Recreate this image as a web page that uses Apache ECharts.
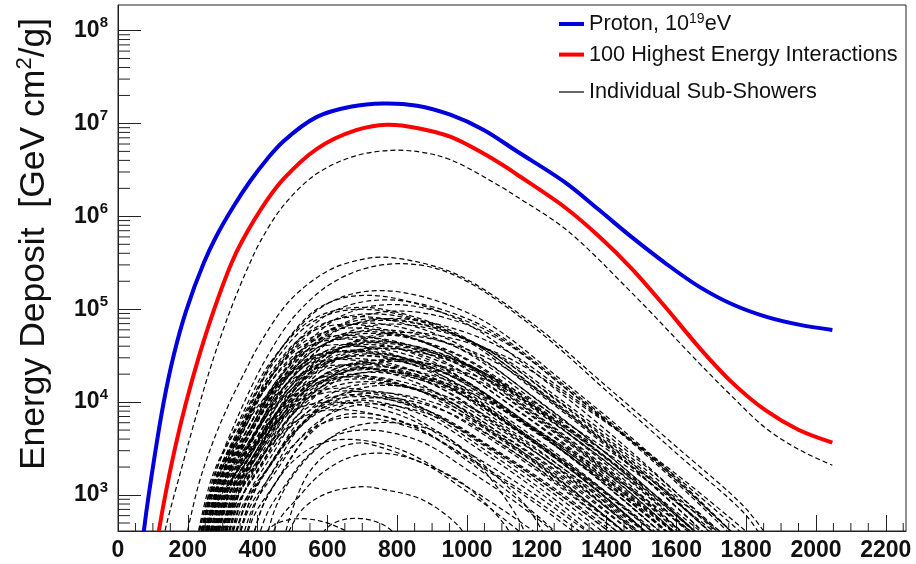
<!DOCTYPE html>
<html>
<head>
<meta charset="utf-8">
<script src="https://cdn.jsdelivr.net/npm/echarts@6/dist/echarts.min.js"></script>
<style>
html,body{margin:0;padding:0;background:#fff;}
#chart{width:916px;height:564px;}
</style>
</head>
<body>
<div id="chart"></div>
<script>
// ---------- data (slant depth X in g/cm^2) ----------
const xTickLabels = [0,200,400,600,800,1000,1200,1400,1600,1800,2000,2200];
const yDecades = [3,4,5,6,7,8];

// Proton, 10^19 eV  (energy deposit, GeV cm^2/g)
const protonX = [65,74,88,131,160,195,246,281,330,379,427,475,570,666,761,857,952,1048,1143,1283,1378,1474,1569,1665,1760,1856,1951,2047];
const protonY = [200,407,1.0e3,1.0e4,3.24e4,9.55e4,3.16e5,6.03e5,1.26e6,2.40e6,4.12e6,6.46e6,1.175e7,1.51e7,1.64e7,1.55e7,1.24e7,8.51e6,5.01e6,2.29e6,1.175e6,5.89e5,3.12e5,1.75e5,1.13e5,8.32e4,6.82e4,5.98e4];

// 100 highest energy interactions
const highestX = [105,117,137,164,193,231,274,326,355,427,475,570,680,771,860,952,1092,1143,1283,1378,1474,1569,1665,1760,1856,1951,2047];
const highestY = [200,407,1.07e3,3.28e3,9.25e3,3.01e4,9.6e4,3.18e5,5.35e5,1.49e6,2.54e6,5.33e6,8.41e6,9.66e6,8.89e6,7.19e6,3.78e6,2.82e6,1.23e6,6.1e5,2.69e5,1.05e5,3.89e4,1.62e4,8.13e3,5.01e3,3.67e3];

// individual sub-showers: [X, log10(energy deposit)] pairs
const subShowerLog10 = [
 [[125,2.45],[140,2.70],[183,3.30],[226,3.88],[270,4.43],[322,4.99],[370,5.43],[408,5.73],[475,6.12],[570,6.46],[680,6.65],[782,6.71],[870,6.69],[952,6.61],[1092,6.33],[1143,6.21],[1283,5.86],[1474,5.17],[1665,4.42],[1760,4.06],[1856,3.72],[1951,3.49],[2047,3.32]],
 [[190,2.45],[230,3.10],[270,3.55],[312,3.93],[360,4.30],[408,4.64],[494,5.10],[600,5.41],[680,5.52],[760,5.56],[900,5.47],[1000,5.32],[1200,4.81],[1400,4.17],[1600,3.52],[1800,2.85],[1880,2.45]],
 [[235,2.45],[260,2.95],[290,3.35],[350,3.90],[420,4.44],[500,4.90],[600,5.25],[700,5.43],[800,5.49],[900,5.45],[1000,5.30],[1200,4.78],[1400,4.12],[1600,3.45],[1800,2.78],[1860,2.45]],
 [[225,2.45],[279,3.25],[359,3.85],[466,4.57],[600,5.06],[760,5.20],[1020,4.93],[1280,4.21],[1540,3.39],[1800,2.45]],
 [[245,2.45],[293,3.23],[364,3.83],[459,4.53],[578,5.02],[720,5.15],[980,4.88],[1240,4.18],[1500,3.37],[1760,2.45]],
 [[255,2.45],[310,3.20],[391,3.78],[500,4.45],[637,4.92],[800,5.05],[1048,4.79],[1295,4.11],[1543,3.33],[1790,2.45]],
 [[235,2.45],[282,3.19],[351,3.75],[444,4.41],[561,4.87],[700,5.00],[955,4.75],[1210,4.08],[1465,3.32],[1720,2.45]],
 [[222,2.45],[270,3.20],[342,3.76],[437,4.43],[557,4.89],[700,5.02],[960,4.76],[1220,4.09],[1480,3.32],[1740,2.45]],
 [[228,2.45],[283,3.22],[366,3.80],[476,4.49],[614,4.97],[780,5.10],[1035,4.84],[1290,4.15],[1545,3.35],[1800,2.45]],
 [[242,2.45],[300,3.18],[387,3.74],[502,4.40],[647,4.85],[820,4.98],[1065,4.73],[1310,4.07],[1555,3.31],[1800,2.45]],
 [[248,2.45],[303,3.16],[386,3.70],[496,4.34],[634,4.78],[800,4.90],[1058,4.66],[1315,4.02],[1573,3.28],[1830,2.45]],
 [[265,2.45],[323,3.12],[409,3.62],[524,4.22],[668,4.64],[840,4.75],[1093,4.52],[1345,3.92],[1598,3.23],[1850,2.45]],
 [[230,2.45],[281,3.18],[358,3.73],[460,4.38],[587,4.83],[740,4.95],[985,4.70],[1230,4.05],[1475,3.30],[1720,2.45]],
 [[250,2.45],[295,3.17],[363,3.71],[453,4.35],[565,4.80],[700,4.92],[950,4.67],[1200,4.03],[1450,3.29],[1700,2.45]],
 [[250,2.45],[301,3.16],[378,3.70],[480,4.34],[607,4.78],[760,4.90],[1010,4.66],[1260,4.02],[1510,3.28],[1760,2.45]],
 [[240,2.45],[294,3.15],[375,3.69],[483,4.32],[618,4.76],[780,4.88],[1020,4.64],[1260,4.01],[1500,3.28],[1740,2.45]],
 [[260,2.45],[306,3.15],[375,3.67],[467,4.30],[582,4.73],[720,4.85],[960,4.61],[1200,3.99],[1440,3.27],[1680,2.45]],
 [[262,2.45],[316,3.14],[397,3.67],[504,4.29],[639,4.72],[800,4.84],[1043,4.60],[1285,3.98],[1528,3.26],[1770,2.45]],
 [[248,2.45],[289,3.14],[351,3.67],[433,4.29],[536,4.72],[660,4.84],[905,4.60],[1150,3.98],[1395,3.26],[1640,2.45]],
 [[235,2.45],[280,3.13],[346,3.65],[435,4.26],[547,4.68],[680,4.80],[923,4.57],[1165,3.95],[1408,3.25],[1650,2.45]],
 [[270,2.45],[319,3.13],[393,3.64],[491,4.24],[613,4.66],[760,4.78],[995,4.55],[1230,3.94],[1465,3.24],[1700,2.45]],
 [[238,2.45],[286,3.12],[359,3.63],[455,4.23],[575,4.64],[720,4.76],[965,4.53],[1210,3.93],[1455,3.24],[1700,2.45]],
 [[250,2.45],[299,3.11],[373,3.62],[471,4.21],[593,4.63],[740,4.74],[970,4.51],[1200,3.92],[1430,3.23],[1660,2.45]],
 [[230,2.45],[273,3.11],[338,3.61],[424,4.20],[531,4.61],[660,4.72],[905,4.49],[1150,3.90],[1395,3.22],[1640,2.45]],
 [[275,2.45],[330,3.11],[411,3.61],[520,4.20],[657,4.61],[820,4.72],[1050,4.49],[1280,3.90],[1510,3.22],[1740,2.45]],
 [[280,2.45],[322,3.10],[385,3.60],[469,4.18],[574,4.59],[700,4.70],[935,4.48],[1170,3.89],[1405,3.22],[1640,2.45]],
 [[245,2.45],[286,3.10],[346,3.59],[427,4.17],[529,4.57],[650,4.68],[888,4.46],[1125,3.88],[1363,3.21],[1600,2.45]],
 [[255,2.45],[304,3.09],[376,3.58],[473,4.15],[595,4.55],[740,4.66],[978,4.44],[1215,3.86],[1453,3.20],[1690,2.45]],
 [[265,2.45],[315,3.09],[389,3.57],[488,4.14],[612,4.54],[760,4.65],[990,4.43],[1220,3.86],[1450,3.20],[1680,2.45]],
 [[300,2.45],[344,3.09],[410,3.57],[498,4.14],[608,4.53],[740,4.64],[985,4.42],[1230,3.85],[1475,3.19],[1720,2.45]],
 [[290,2.45],[333,3.08],[398,3.56],[484,4.12],[591,4.51],[720,4.62],[945,4.40],[1170,3.84],[1395,3.19],[1620,2.45]],
 [[236,2.45],[276,3.08],[337,3.56],[418,4.12],[519,4.51],[640,4.62],[870,4.40],[1100,3.84],[1330,3.19],[1560,2.45]],
 [[255,2.45],[299,3.07],[364,3.55],[451,4.11],[560,4.49],[690,4.60],[918,4.39],[1145,3.83],[1373,3.18],[1600,2.45]],
 [[290,2.45],[339,3.07],[413,3.55],[511,4.11],[633,4.49],[780,4.60],[1010,4.39],[1240,3.83],[1470,3.18],[1700,2.45]],
 [[300,2.45],[348,3.07],[420,3.54],[516,4.09],[636,4.47],[780,4.58],[1000,4.37],[1220,3.81],[1440,3.17],[1660,2.45]],
 [[240,2.45],[292,3.07],[370,3.54],[474,4.09],[604,4.47],[760,4.58],[1015,4.37],[1270,3.81],[1525,3.17],[1780,2.45]],
 [[232,2.45],[277,3.06],[344,3.53],[434,4.07],[546,4.45],[680,4.56],[915,4.35],[1150,3.80],[1385,3.17],[1620,2.45]],
 [[240,2.45],[282,3.06],[345,3.52],[429,4.07],[534,4.45],[660,4.55],[885,4.34],[1110,3.79],[1335,3.16],[1560,2.45]],
 [[275,2.45],[316,3.06],[376,3.52],[457,4.07],[559,4.45],[680,4.55],[920,4.34],[1160,3.79],[1400,3.16],[1640,2.45]],
 [[275,2.45],[322,3.05],[391,3.51],[484,4.04],[601,4.42],[740,4.52],[955,4.31],[1170,3.77],[1385,3.15],[1600,2.45]],
 [[310,2.45],[349,3.04],[408,3.50],[486,4.03],[583,4.40],[700,4.50],[920,4.30],[1140,3.76],[1360,3.15],[1580,2.45]],
 [[268,2.45],[313,3.04],[381,3.50],[471,4.03],[584,4.40],[720,4.50],[950,4.30],[1180,3.76],[1410,3.15],[1640,2.45]],
 [[260,2.45],[302,3.04],[365,3.48],[449,4.01],[554,4.37],[680,4.47],[895,4.27],[1110,3.74],[1325,3.14],[1540,2.45]],
 [[222,2.45],[264,3.03],[327,3.48],[410,4.00],[515,4.36],[640,4.46],[865,4.26],[1090,3.74],[1315,3.13],[1540,2.45]],
 [[300,2.45],[350,3.03],[425,3.48],[525,4.00],[650,4.36],[800,4.46],[1015,4.26],[1230,3.74],[1445,3.13],[1660,2.45]],
 [[285,2.45],[333,3.03],[404,3.47],[499,3.99],[618,4.35],[760,4.45],[975,4.25],[1190,3.73],[1405,3.13],[1620,2.45]],
 [[285,2.45],[339,3.03],[419,3.46],[526,3.98],[660,4.34],[820,4.44],[1055,4.24],[1290,3.72],[1525,3.13],[1760,2.45]],
 [[320,2.45],[360,3.02],[420,3.45],[500,3.97],[600,4.32],[720,4.42],[930,4.22],[1140,3.71],[1350,3.12],[1560,2.45]],
 [[245,2.45],[291,3.02],[359,3.45],[450,3.96],[564,4.31],[700,4.41],[920,4.21],[1140,3.70],[1360,3.12],[1580,2.45]],
 [[250,2.45],[289,3.02],[348,3.44],[426,3.95],[523,4.30],[640,4.40],[855,4.21],[1070,3.70],[1285,3.11],[1500,2.45]],
 [[282,2.45],[330,3.01],[402,3.43],[497,3.94],[617,4.28],[760,4.38],[975,4.19],[1190,3.69],[1405,3.11],[1620,2.45]],
 [[295,2.45],[336,3.01],[396,3.43],[477,3.93],[579,4.27],[700,4.37],[908,4.18],[1115,3.68],[1323,3.10],[1530,2.45]],
 [[255,2.45],[302,3.00],[371,3.42],[464,3.92],[581,4.26],[720,4.36],[965,4.17],[1210,3.67],[1455,3.10],[1700,2.45]],
 [[270,2.45],[317,3.00],[388,3.42],[482,3.91],[599,4.26],[740,4.35],[945,4.16],[1150,3.67],[1355,3.10],[1560,2.45]],
 [[330,2.45],[373,3.00],[438,3.41],[524,3.90],[631,4.24],[760,4.33],[965,4.14],[1170,3.65],[1375,3.09],[1580,2.45]],
 [[315,2.45],[358,2.99],[421,3.40],[506,3.89],[613,4.23],[740,4.32],[953,4.13],[1165,3.65],[1378,3.09],[1590,2.45]],
 [[280,2.45],[318,2.99],[375,3.39],[451,3.87],[546,4.21],[660,4.30],[865,4.12],[1070,3.63],[1275,3.08],[1480,2.45]],
 [[262,2.45],[306,2.98],[372,3.38],[459,3.86],[569,4.19],[700,4.28],[915,4.10],[1130,3.62],[1345,3.07],[1560,2.45]],
 [[258,2.45],[300,2.98],[364,3.38],[448,3.85],[553,4.18],[680,4.27],[890,4.09],[1100,3.61],[1310,3.07],[1520,2.45]],
 [[300,2.45],[340,2.97],[400,3.37],[480,3.84],[580,4.16],[700,4.25],[900,4.07],[1100,3.60],[1300,3.06],[1500,2.45]],
 [[295,2.45],[338,2.96],[401,3.35],[486,3.81],[593,4.13],[720,4.22],[925,4.04],[1130,3.58],[1335,3.05],[1540,2.45]],
 [[340,2.45],[380,2.96],[440,3.34],[520,3.80],[620,4.11],[740,4.20],[935,4.03],[1130,3.57],[1325,3.05],[1520,2.45]],
 [[325,2.45],[371,2.95],[439,3.33],[530,3.78],[644,4.09],[780,4.18],[975,4.01],[1170,3.56],[1365,3.04],[1560,2.45]],
 [[280,2.45],[317,2.94],[373,3.32],[447,3.76],[539,4.07],[650,4.15],[848,3.98],[1045,3.54],[1243,3.03],[1440,2.45]],
 [[360,2.45],[396,2.93],[450,3.30],[522,3.74],[612,4.04],[720,4.12],[910,3.95],[1100,3.52],[1290,3.02],[1480,2.45]],
 [[270,2.45],[309,2.93],[368,3.30],[446,3.74],[543,4.04],[660,4.12],[860,3.95],[1060,3.52],[1260,3.02],[1460,2.45]],
 [[318,2.45],[362,2.93],[429,3.29],[517,3.72],[627,4.02],[760,4.10],[945,3.94],[1130,3.51],[1315,3.01],[1500,2.45]],
 [[310,2.45],[347,2.92],[403,3.28],[477,3.71],[569,4.00],[680,4.08],[865,3.92],[1050,3.49],[1235,3.00],[1420,2.45]],
 [[305,2.45],[345,2.92],[404,3.27],[483,3.69],[582,3.98],[700,4.06],[893,3.90],[1085,3.48],[1278,3.00],[1470,2.45]],
 [[380,2.45],[418,2.91],[475,3.27],[551,3.68],[646,3.97],[760,4.05],[945,3.89],[1130,3.47],[1315,2.99],[1500,2.45]],
 [[330,2.45],[367,2.91],[423,3.25],[497,3.66],[589,3.94],[700,4.02],[875,3.86],[1050,3.45],[1225,2.98],[1400,2.45]],
 [[244,2.45],[282,2.90],[338,3.24],[413,3.64],[507,3.92],[620,4.00],[815,3.85],[1010,3.44],[1205,2.98],[1400,2.45]],
 [[350,2.45],[389,2.89],[448,3.23],[526,3.63],[623,3.90],[740,3.98],[920,3.83],[1100,3.43],[1280,2.97],[1460,2.45]],
 [[290,2.45],[325,2.88],[378,3.20],[448,3.58],[535,3.85],[640,3.92],[825,3.77],[1010,3.39],[1195,2.95],[1380,2.45]],
 [[380,2.45],[412,2.86],[460,3.18],[524,3.55],[604,3.81],[700,3.88],[850,3.74],[1000,3.37],[1150,2.94],[1300,2.45]],
 [[340,2.45],[375,2.85],[428,3.16],[498,3.52],[585,3.77],[690,3.84],[858,3.70],[1025,3.34],[1193,2.92],[1360,2.45]],
 [[340,2.45],[375,2.90],[430,3.30],[500,3.65],[590,3.92],[690,4.00],[800,3.92],[900,3.72],[1000,3.47],[1100,3.15],[1178,2.84],[1240,2.45]],
 [[420,2.45],[450,2.85],[500,3.20],[570,3.50],[660,3.72],[780,3.78],[920,3.67],[1000,3.45],[1063,3.20],[1149,2.73],[1180,2.45]],
 [[395,2.45],[428,2.81],[476,3.09],[541,3.41],[623,3.64],[720,3.70],[865,3.58],[1010,3.25],[1155,2.88],[1300,2.45]],
 [[360,2.45],[390,2.78],[435,3.04],[495,3.34],[570,3.54],[660,3.60],[808,3.49],[955,3.19],[1103,2.84],[1250,2.45]],
 [[470,2.45],[500,2.85],[547,3.24],[610,3.47],[690,3.56],[748,3.52],[850,3.38],[986,3.13],[1112,2.66],[1140,2.45]],
 [[430,2.45],[463,2.74],[513,2.96],[579,3.22],[661,3.40],[760,3.45],[870,3.35],[980,3.09],[1090,2.79],[1200,2.45]],
 [[470,2.45],[527,2.84],[600,3.02],[700,3.09],[760,3.06],[872,2.95],[977,2.66],[1010,2.45]],
 [[400,2.45],[440,2.66],[500,2.74],[580,2.72],[660,2.60],[720,2.45]],
 [[560,2.45],[610,2.68],[680,2.75],[760,2.68],[830,2.45]]
];

// ---------- axes geometry ----------
const Y_MIN = 410, Y_MAX = 1.882e8;
const X_MIN = 0, X_MAX = 2258;

const FONT = "'Liberation Sans', Arial, Helvetica, sans-serif";
const AXIS_COLOR = '#222';

const xMinorTicks = [];
for (let v = 50; v < X_MAX; v += 50) if (v % 200 !== 0) xMinorTicks.push(v);
const yMinorTicks = [];
for (let n = 2; n <= 8; n++) for (let k = 2; k <= 9; k++) {
  const v = k * Math.pow(10, n);
  if (v > Y_MIN && v < Y_MAX) yMinorTicks.push(v);
}

const NAME_PROTON = 'Proton, 10^19eV';
const NAME_HIGH = '100 Highest Energy Interactions';
const NAME_SUB = 'Individual Sub-Showers';

// smooth curve (centripetal Catmull-Rom as cubic Beziers) through pixel points
function smoothPath(pts) {
  const dist = (a, b) => Math.hypot(b[0] - a[0], b[1] - a[1]);
  let d = 'M' + pts[0][0].toFixed(2) + ',' + pts[0][1].toFixed(2);
  for (let i = 0; i < pts.length - 1; i++) {
    const p0 = pts[i - 1] || pts[i], p1 = pts[i], p2 = pts[i + 1], p3 = pts[i + 2] || pts[i + 1];
    const d1 = Math.sqrt(dist(p0, p1)), d2 = Math.sqrt(dist(p1, p2)), d3 = Math.sqrt(dist(p2, p3));
    let b1 = p1, b2 = p2;
    if (d1 > 1e-6) {
      const k = 3 * d1 * (d1 + d2), c = 2 * d1 * d1 + 3 * d1 * d2 + d2 * d2;
      b1 = [(d1 * d1 * p2[0] - d2 * d2 * p0[0] + c * p1[0]) / k, (d1 * d1 * p2[1] - d2 * d2 * p0[1] + c * p1[1]) / k];
    }
    if (d3 > 1e-6) {
      const k = 3 * d3 * (d3 + d2), c = 2 * d3 * d3 + 3 * d3 * d2 + d2 * d2;
      b2 = [(d3 * d3 * p1[0] - d2 * d2 * p3[0] + c * p2[0]) / k, (d3 * d3 * p1[1] - d2 * d2 * p3[1] + c * p2[1]) / k];
    }
    d += ' C' + b1[0].toFixed(2) + ',' + b1[1].toFixed(2) + ' ' + b2[0].toFixed(2) + ',' + b2[1].toFixed(2) + ' ' + p2[0].toFixed(2) + ',' + p2[1].toFixed(2);
  }
  return d;
}

function curveSeries(name, data, lineStyle, z) {
  return {
    type: 'custom', name: name, data: data, clip: true, silent: true, z: z,
    encode: { x: 0, y: 1 },
    itemStyle: { color: lineStyle.stroke },
    renderItem: (params, api) => {
      if (params.dataIndex !== 0) return null;
      const pts = data.map(p => api.coord(p));
      return { type: 'path', shape: { pathData: smoothPath(pts) },
               style: Object.assign({ fill: null }, lineStyle) };
    }
  };
}

const series = [];
subShowerLog10.forEach(curve => {
  series.push(curveSeries(NAME_SUB, curve.map(p => [p[0], Math.pow(10, p[1])]),
    { stroke: '#000', lineWidth: 1.2, lineDash: [5, 3] }, 2));
});
series.push(curveSeries(NAME_HIGH, highestX.map((x, i) => [x, highestY[i]]),
  { stroke: '#ff0000', lineWidth: 4 }, 3));
series.push(curveSeries(NAME_PROTON, protonX.map((x, i) => [x, protonY[i]]),
  { stroke: '#0000dd', lineWidth: 4 }, 3));

// minor ticks (log decades 2..9, and every 50 g/cm^2)
series.push({
  type: 'custom', silent: true, z: 5,
  data: yMinorTicks.map(v => [X_MIN, v]),
  renderItem: (params, api) => {
    const p = api.coord([X_MIN, api.value(1)]);
    return { type: 'line', shape: { x1: p[0], y1: p[1], x2: p[0] + 12, y2: p[1] },
             style: { stroke: AXIS_COLOR, lineWidth: 1 } };
  }
});
series.push({
  type: 'custom', silent: true, z: 5,
  data: xMinorTicks.map(v => [v, Y_MIN]),
  renderItem: (params, api) => {
    const p = api.coord([api.value(0), Y_MIN]);
    return { type: 'line', shape: { x1: p[0], y1: p[1], x2: p[0], y2: p[1] - 8 },
             style: { stroke: AXIS_COLOR, lineWidth: 1 } };
  }
});

const legendText = { fontFamily: FONT, fontSize: 21.7, color: '#111', lineHeight: 24 };
const legendRich = {
  t: { fontFamily: FONT, fontSize: 21.7, color: '#111', lineHeight: 24 },
  s: { fontFamily: FONT, fontSize: 14, color: '#111', verticalAlign: 'top', lineHeight: 24 }
};

const chart = echarts.init(document.getElementById('chart'), null, { renderer: 'canvas' });
chart.setOption({
  animation: false,
  backgroundColor: '#fff',
  grid: { left: 118, right: 10, top: 5, bottom: 33, show: true, borderColor: AXIS_COLOR, borderWidth: 1 },
  legend: [
    { left: 559, top: 12, padding: 0, itemWidth: 25, itemHeight: 4, itemGap: 0, selectedMode: false,
      data: [{ name: NAME_PROTON, icon: 'rect', itemStyle: { color: '#0000dd' } }],
      formatter: () => '{t|Proton, 10}{s|19}{t|eV}',
      textStyle: Object.assign({ rich: legendRich }, legendText) },
    { left: 559, top: 42.6, padding: 0, itemWidth: 25, itemHeight: 4, itemGap: 0, selectedMode: false,
      data: [{ name: NAME_HIGH, icon: 'rect', itemStyle: { color: '#ff0000' } }],
      textStyle: legendText },
    { left: 559, top: 80, padding: 0, itemWidth: 25, itemHeight: 1.2, itemGap: 0, selectedMode: false,
      data: [{ name: NAME_SUB, icon: 'rect', itemStyle: { color: '#000' } }],
      textStyle: legendText }
  ],
  xAxis: {
    type: 'value', min: X_MIN, max: X_MAX, interval: 200,
    axisLine: { show: true, lineStyle: { color: AXIS_COLOR, width: 1 } },
    axisTick: { show: true, inside: true, length: 16, lineStyle: { color: AXIS_COLOR, width: 1 } },
    axisLabel: { show: true, showMaxLabel: false, margin: 8, fontFamily: FONT, fontSize: 23,
                 fontWeight: 'bold', color: '#111',
                 formatter: v => (xTickLabels.indexOf(v) >= 0 ? String(v) : '') },
    splitLine: { show: false }
  },
  yAxis: {
    type: 'log', logBase: 10, min: Y_MIN, max: Y_MAX,
    axisLine: { show: true, lineStyle: { color: AXIS_COLOR, width: 1 } },
    axisTick: { show: true, inside: true, length: 23, lineStyle: { color: AXIS_COLOR, width: 1 } },
    axisLabel: {
      show: true, showMinLabel: false, showMaxLabel: false, margin: 10,
      formatter: v => {
        const n = Math.round(Math.log10(v));
        return yDecades.indexOf(n) >= 0 ? '{b|10}{s|' + n + '}' : '';
      },
      rich: {
        b: { fontFamily: FONT, fontSize: 23, fontWeight: 'bold', color: '#111', lineHeight: 30 },
        s: { fontFamily: FONT, fontSize: 15, fontWeight: 'bold', color: '#111', verticalAlign: 'top', lineHeight: 30 }
      }
    },
    splitLine: { show: false },
    name: '{a|Energy Deposit  [GeV cm}{s|2}{a|/g]}',
    nameLocation: 'middle', nameRotate: 90, nameGap: 64,
    nameTextStyle: {
      padding: [0, 0, 0, 48],
      rich: {
        a: { fontFamily: FONT, fontSize: 35.5, color: '#111', lineHeight: 40 },
        s: { fontFamily: FONT, fontSize: 22, color: '#111', verticalAlign: 'top', lineHeight: 40 }
      }
    }
  },
  series: series
});
</script>
</body>
</html>
